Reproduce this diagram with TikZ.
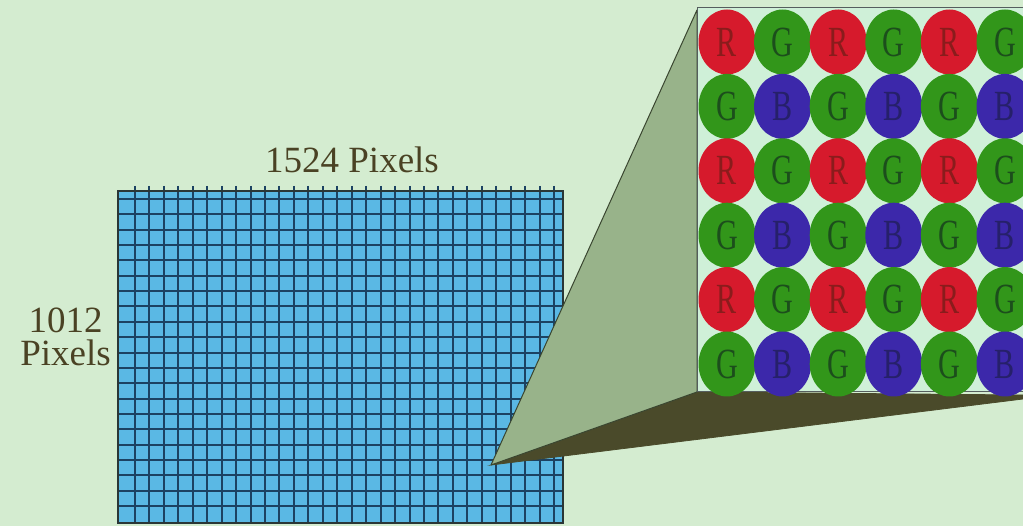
\documentclass[tikz,border=0pt]{standalone}
\usepackage{fontspec}
\usepackage{graphicx}
\setmainfont{Liberation Serif}
\usetikzlibrary{shapes.geometric}
\definecolor{bg}{HTML}{D4ECD0}
\definecolor{gridfill}{HTML}{5AB8E4}
\definecolor{gridline}{HTML}{1C4262}
\definecolor{gridborder}{HTML}{2A3636}
\definecolor{lightface}{HTML}{98B38A}
\definecolor{darkface}{HTML}{4A4A2A}
\definecolor{faceedge}{HTML}{3A4630}
\definecolor{panelbg}{HTML}{CFF0D8}
\definecolor{txt}{HTML}{4A4224}
\definecolor{sred}{HTML}{D61A2C}
\definecolor{sgreen}{HTML}{32961A}
\definecolor{sblue}{HTML}{3C28AA}
\definecolor{lred}{HTML}{8A1C1C}
\definecolor{lgreen}{HTML}{1C4E1C}
\definecolor{lblue}{HTML}{26206A}
\tikzset{
  lbl/.style={text=txt, inner sep=0pt, font=\fontsize{37}{33}\selectfont},
  gline/.style={draw=gridline, line width=1.6pt},
  sensor/.style={ellipse, inner sep=0pt, minimum width=57pt, minimum height=65pt,
     font=\fontsize{43}{43}\selectfont},
  sensorR/.style={sensor, fill=sred, text=lred},
  sensorG/.style={sensor, fill=sgreen, text=lgreen},
  sensorB/.style={sensor, fill=sblue, text=lblue},
}
\begin{document}
\begin{tikzpicture}[x=1pt,y=-1pt]
\useasboundingbox (0,0) rectangle (1023,526);
\fill[bg] (0,0) rectangle (1023,526);
% pixel grid
\fill[gridfill] (118,191) rectangle (563,523);
\foreach \k in {0,...,29}{
  \pgfmathtruncatemacro\gx{round(135+14.45*\k)}
  \draw[gline] (\gx,186) -- (\gx,523);
}
\foreach \k in {0,...,20}{
  \pgfmathtruncatemacro\gy{round(199+15.35*\k)}
  \draw[gline] (118,\gy) -- (563,\gy);
}
\draw[draw=gridborder, line width=2.4pt] (118,191) rectangle (563,523);
% labels
\node[lbl] (toplabel) at (352,160) {1524 Pixels};
\node[lbl, anchor=base] (leftnum) at (65.5,333) {1012};
\node[lbl, anchor=base] (leftword) at (65.5,366) {Pixels};
% magnifier cone
\coordinate (apex) at (491,465);
\coordinate (pTL) at (697,10);
\coordinate (pBL) at (697,392);
\coordinate (pBR) at (1023,395);
\coordinate (dBR) at (1023,399);
\filldraw[fill=darkface, draw=darkface, line width=0.8pt] (apex) -- (pBL) -- (pBR) -- (dBR) -- cycle;
\filldraw[fill=lightface, draw=faceedge, line width=1pt, line join=round] (apex) -- (pTL) -- (pBL) -- cycle;
% panel
\filldraw[fill=panelbg, draw=gridborder!80, line width=1pt] (697,8) rectangle (1030,392);
% sensor array
\foreach \i in {0,...,5}{
  \foreach \j in {0,...,5}{
    \pgfmathtruncatemacro\ri{mod(\i,2)}
    \pgfmathtruncatemacro\cj{mod(\j,2)}
    \ifnum\ri=0 \ifnum\cj=0 \def\t{R}\else\def\t{G}\fi
    \else \ifnum\cj=0 \def\t{G}\else\def\t{B}\fi\fi
    \node[sensor\t] (s-\i-\j) at ({727+55.6*\j},{42+64.4*\i}) {\scalebox{0.7}[1]{\t}};
  }
}
\end{tikzpicture}
\end{document}
